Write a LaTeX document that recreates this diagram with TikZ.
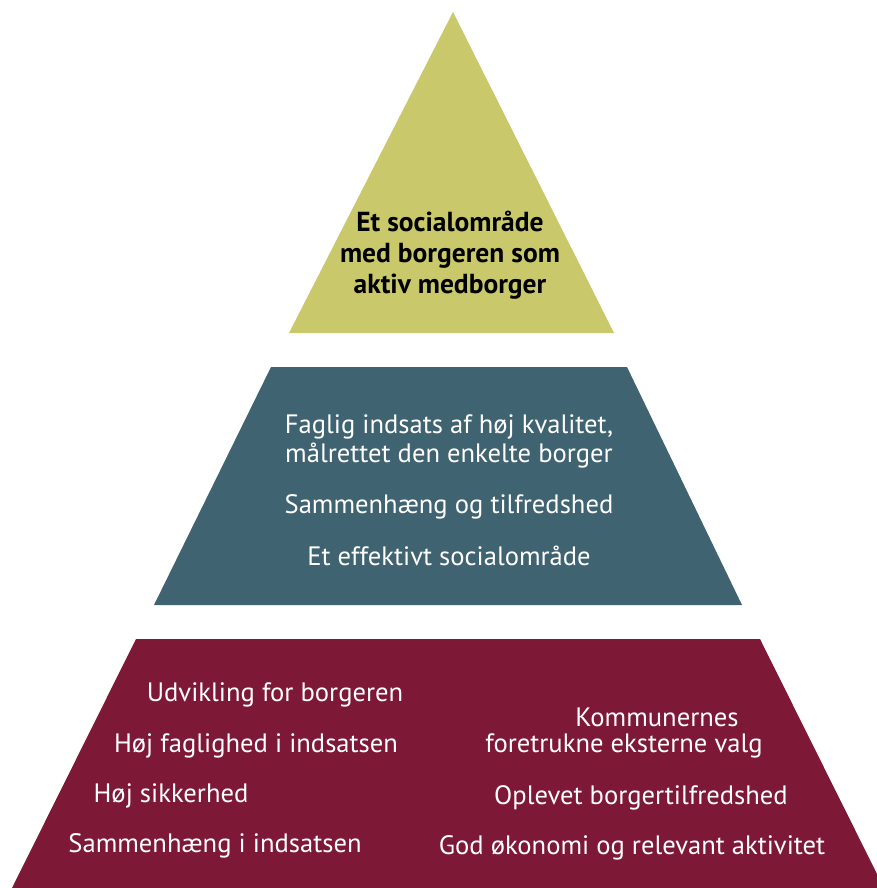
\documentclass[tikz,border=0pt]{standalone}
\usepackage{fontspec}
\setmainfont{PT Sans}
\definecolor{olive}{HTML}{C9C96C}
\definecolor{teal}{HTML}{406372}
\definecolor{wine}{HTML}{7E1837}
\begin{document}
\begin{tikzpicture}[x=1pt,y=-1pt,
  lbl/.style={text=white,font=\fontsize{26.6}{29}\selectfont,align=center,inner sep=0pt,anchor=center},
  toplbl/.style={text=black,font=\bfseries\fontsize{27.5}{31}\selectfont,align=center,inner sep=0pt,anchor=center}]
\useasboundingbox (0,0) rectangle (876,888);
\fill[white] (0,0) rectangle (876,888);
% shapes
\fill[olive] (453,12) -- (614,333) -- (289,333) -- cycle;
\fill[teal] (271,367) -- (627,367) -- (742,605) -- (154,605) -- cycle;
\fill[wine] (136,639) -- (760,639) -- (884,888) -- (12,888) -- cycle;
% texts
\node[toplbl] (top) at (450,255) {Et socialområde\\med borgeren som\\aktiv medborger};
\node[lbl] (m1) at (449,441) {Faglig indsats af høj kvalitet,\\målrettet den enkelte borger};
\node[lbl] (m2) at (449,507) {Sammenhæng og tilfredshed};
\node[lbl] (m3) at (449,556) {Et effektivt socialområde};
\node[lbl] (l1) at (275,695) {Udvikling for borgeren};
\node[lbl] (l2) at (256,746) {Høj faglighed i indsatsen};
\node[lbl] (l3) at (171,796) {Høj sikkerhed};
\node[lbl] (l4) at (215,846) {Sammenhæng i indsatsen};
\node[lbl] (r1a) at (657,717) {Kommunernes};
\node[lbl] (r1b) at (624,746) {foretrukne eksterne valg};
\node[lbl] (r2) at (641,798) {Oplevet borgertilfredshed};
\node[lbl] (r3) at (632,848) {God økonomi og relevant aktivitet};
\end{tikzpicture}
\end{document}
